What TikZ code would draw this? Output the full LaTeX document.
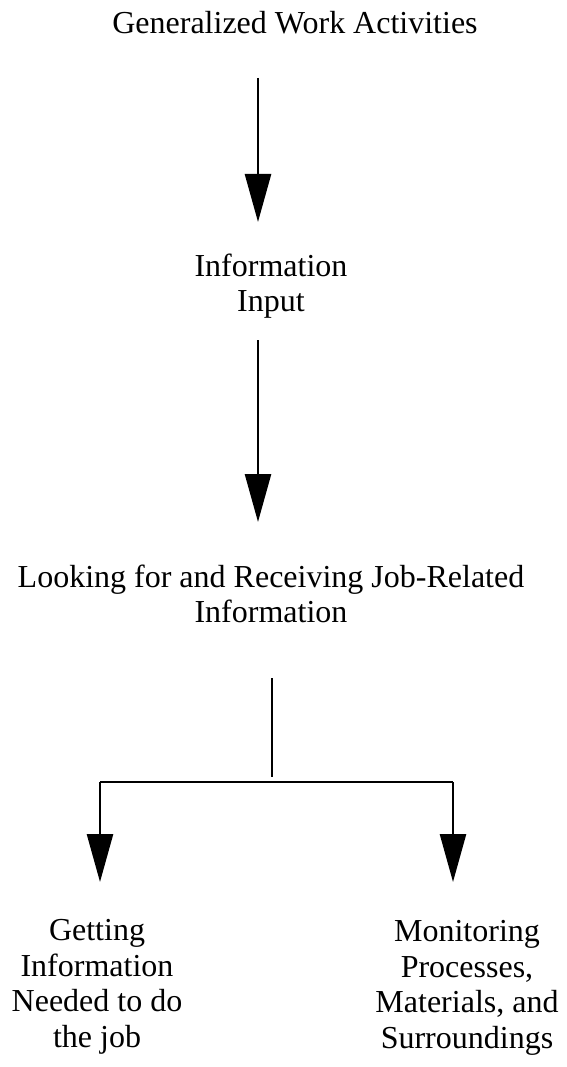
\documentclass[tikz,border=0pt]{standalone}
\usepackage{fontspec}
\setmainfont{Liberation Serif}
\usetikzlibrary{arrows.meta}
\begin{document}
\begin{tikzpicture}[x=1pt,y=1pt,
  label/.style={align=center,inner sep=0pt,font=\fontsize{32}{35.5}\selectfont},
  flow/.style={line width=2.6pt,-{Triangle[width=26pt,length=48pt]}},
  bar/.style={line width=2.6pt}]
\useasboundingbox (0,0) rectangle (566,-1067);
% labels
\node[label] (gwa) at (295,-23) {Generalized Work Activities};
\node[label] (ii) at (271,-286) {Information\\Input};
\node[label] (lr) at (271,-594) {Looking for and Receiving Job-Related\\Information};
\node[label] (gi) at (97,-987) {Getting\\Information\\Needed to do\\the job};
\node[label] (mp) at (467,-988) {Monitoring\\Processes,\\Materials, and\\Surroundings};
% connector end points
\coordinate (a1s) at (258,-78);
\coordinate (a1e) at (258,-222);
\coordinate (a2s) at (258,-340);
\coordinate (a2e) at (258,-522);
\coordinate (bt) at (272,-678);
\coordinate (bb) at (272,-777);
\coordinate (hl) at (100,-782);
\coordinate (hr) at (453,-782);
\coordinate (le) at (100,-882);
\coordinate (re) at (453,-882);
% connectors
\draw[flow] (a1s) -- (a1e);
\draw[flow] (a2s) -- (a2e);
\draw[bar] (bt) -- (bb);
\draw[bar] (hl) -- (hr);
\draw[flow] (hl) -- (le);
\draw[flow] (hr) -- (re);
\end{tikzpicture}
\end{document}
